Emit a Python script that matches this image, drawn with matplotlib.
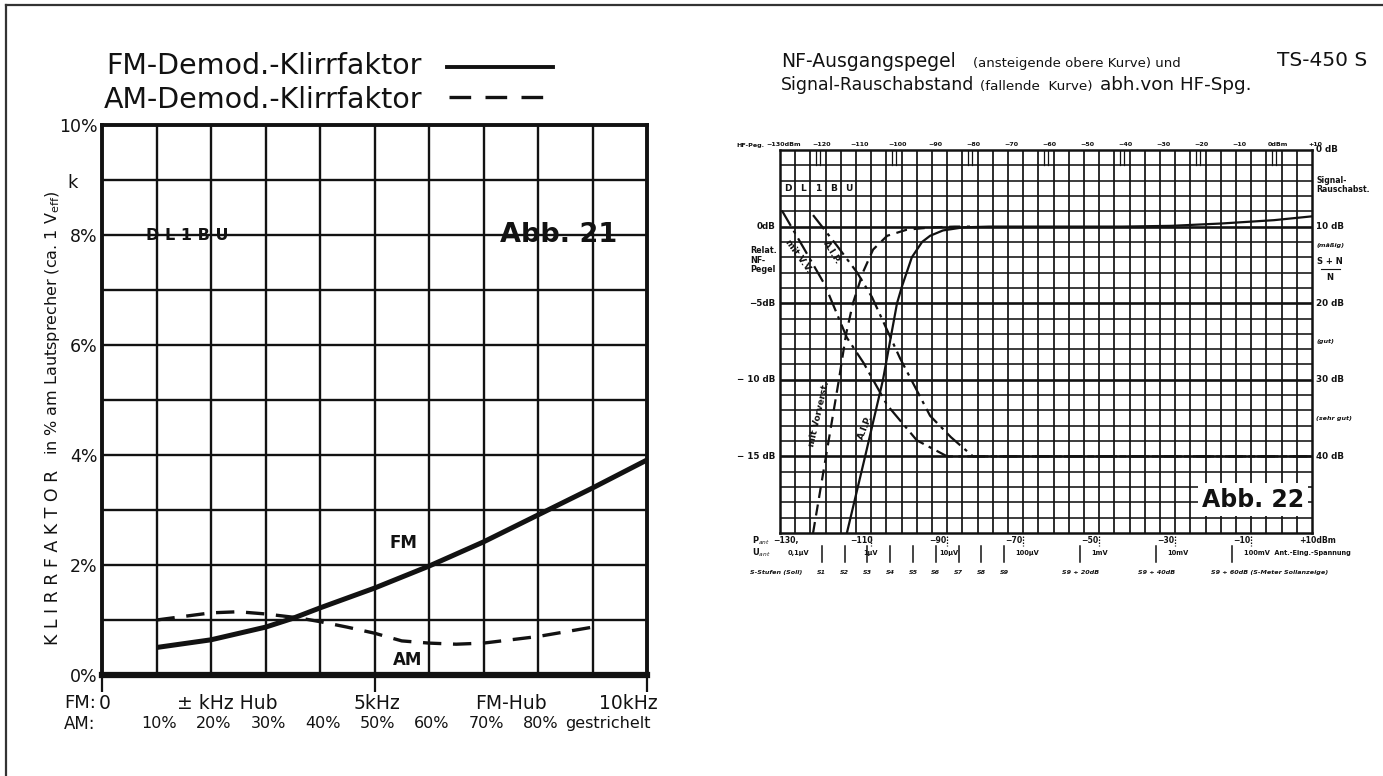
import numpy as np
import matplotlib
matplotlib.use("Agg")
import matplotlib.pyplot as plt
from matplotlib.lines import Line2D

W, H = 1383, 776
plt.rcParams['font.family'] = ['DejaVu Sans']
fig = plt.figure(figsize=(W / 100, H / 100), dpi=100)
fig.patch.set_facecolor('white')
INK = '#121212'


def fx(px):
    return px / W


def fy(py):
    return 1 - py / H


# ---------------- Abb. 21: Klirrfaktor über Hub / Modulationsgrad ----------------
fm_khz = [1.0, 2.0, 3.0, 3.5, 4.0, 5.0, 6.0, 7.0, 8.0, 9.0, 10.0]
fm_klirr = [0.50, 0.64, 0.87, 1.03, 1.22, 1.58, 1.98, 2.42, 2.91, 3.40, 3.91]
am_khz = [1.0, 2.0, 2.5, 3.0, 3.6, 4.0, 4.5, 5.0, 5.5, 6.0, 6.5, 7.0, 8.0, 9.0]
am_klirr = [1.00, 1.13, 1.15, 1.11, 1.04, 0.97, 0.87, 0.76, 0.62, 0.58, 0.56, 0.58, 0.70, 0.87]
klirr_ticks = [0, 2, 4, 6, 8, 10]
klirr_labels = ['0%', '2%', '4%', '6%', '8%', '10%']
am_grad_pos = [1, 2, 3, 4, 5, 6, 7, 8]
am_grad_labels = ['10%', '20%', '30%', '40%', '50%', '60%', '70%', '80%']

# ---------------- Abb. 22: NF-Pegel und S/N über HF-Pegel ----------------
hf_pegel_dbm = [-130, -120, -110, -100, -90, -80, -70, -60, -50, -40, -30, -20, -10, 0, 10]
hf_pegel_labels = ['−130dBm', '−120', '−110', '−100', '−90', '−80', '−70', '−60',
                   '−50', '−40', '−30', '−20', '−10', '0dBm', '+10']
# NF output level (dB, left scale)
nf_aip_dbm = [-112.4, -107.6, -102.9, -99.2, -97.9, -95.3, -92.6, -90.5, -87.1, -81.8,
              -75, -60, -40, -27, -14, 0, 10]
nf_aip_db = [-20, -15, -10, -5, -3.9, -2.0, -1.0, -0.6, -0.25, -0.05,
             0, 0, 0, 0.05, 0.2, 0.42, 0.67]
nf_vv_dbm = [-121.3, -117.9, -114.5, -112.6, -110.8, -108.2, -105.5, -101.8, -96.6, -90, -84, -80]
nf_vv_db = [-20, -15, -10, -7, -5, -3, -1.5, -0.6, -0.2, -0.05, 0, 0]
# signal-to-noise (S+N)/N in dB, right scale
sn_vv_dbm = [-129.5, -124, -118.2, -112.4, -108, -101.8, -94, -86, -70, -40, 10]
sn_vv_db = [7.9, 12.6, 17.6, 24.5, 27.8, 33.3, 37.9, 40, 40, 40, 40]
sn_aip_dbm = [-121.3, -115, -109.7, -105.8, -98.4, -90.5, -85, -79.2, -60, 10]
sn_aip_db = [8.5, 12.5, 16, 19.2, 27.2, 34.7, 37.5, 40, 40, 40]
nf_left_ticks = [0, -5, -10, -15]
nf_left_labels = ['0dB', '−5dB', '− 10 dB', '− 15 dB']
sn_right_ticks = [0, 10, 20, 30, 40]
sn_right_labels = ['0 dB', '10 dB', '20 dB', '30 dB', '40 dB']
sn_grades = [12.5, 25, 35]
sn_grade_labels = ['(mäßig)', '(gut)', '(sehr gut)']
p_ant_dbm = [-130, -110, -90, -70, -50, -30, -10, 10]
p_ant_labels = ['−130,', '−110', '−90', '−70', '−50', '−30', '−10', '+10dBm']
u_ant_dbm = [-127, -107, -87, -67, -47, -27, -7]
u_ant_labels = ['0,1µV', '1µV', '10µV', '100µV', '1mV', '10mV', '100mV  Ant.-Eing.-Spannung']
s_unit_dbm = [-119, -113, -107, -101, -95, -89, -83, -77, -71, -51, -31, -11]
s_unit_labels = ['S1', 'S2', 'S3', 'S4', 'S5', 'S6', 'S7', 'S8', 'S9',
                 'S9 + 20dB', 'S9 + 40dB', 'S9 + 60dB (S-Meter Sollanzeige)']
callsign = ['D', 'L', '1', 'B', 'U']

# ---------------- page frame ----------------
fig.add_artist(Line2D([fx(6), fx(W)], [fy(5), fy(5)], color='#333', lw=1.6))
fig.add_artist(Line2D([fx(6), fx(6)], [fy(5), fy(H)], color='#333', lw=1.6))

# ================= left chart =================
axL = fig.add_axes([fx(102), fy(675), fx(647) - fx(102), fy(125) - fy(675)])
axL.set_xlim(0, 10)
axL.set_ylim(0, 10)
for v in range(1, 10):
    axL.axvline(v, color=INK, lw=1.7, zorder=1)
    axL.axhline(v, color=INK, lw=1.7, zorder=1)
for side in ['left', 'right', 'top']:
    axL.spines[side].set_linewidth(2.8)
    axL.spines[side].set_color(INK)
axL.spines['bottom'].set_linewidth(4.5)
axL.spines['bottom'].set_color(INK)
axL.set_xticks([0, 5, 10])
axL.set_xticklabels([])
axL.tick_params(axis='x', direction='out', length=12, width=1.6, color=INK)
axL.set_yticks(klirr_ticks)
axL.set_yticklabels(klirr_labels, fontsize=12.5, color=INK)
axL.tick_params(axis='y', length=0, pad=3)

axL.plot(fm_khz, fm_klirr, color=INK, lw=3.6, solid_capstyle='butt', zorder=3)
axL.plot(am_khz, am_klirr, color=INK, lw=2.4, dashes=(5.5, 3.5), zorder=3)

axL.text(5.54, 2.4, 'FM', fontsize=12, fontweight='bold', ha='center', va='center', color=INK)
axL.text(5.6, 0.27, 'AM', fontsize=12, fontweight='bold', ha='center', va='center', color=INK)
axL.text(0.8, 8.0, 'D L 1 B U', fontsize=11.5, fontweight='bold', ha='left', va='center', color=INK)
axL.text(9.45, 8.0, 'Abb. 21', fontsize=19.5, fontweight='bold', ha='right', va='center', color=INK)

xt = axL.get_xaxis_transform()
axL.text(0.05, -0.052, '0', transform=xt, fontsize=13.5, ha='center', va='center', color=INK)
axL.text(2.3, -0.052, '± kHz Hub', transform=xt, fontsize=13.5, ha='center', va='center', color=INK)
axL.text(5.05, -0.052, '5kHz', transform=xt, fontsize=13.5, ha='center', va='center', color=INK)
axL.text(7.5, -0.052, 'FM-Hub', transform=xt, fontsize=13.5, ha='center', va='center', color=INK)
axL.text(10.2, -0.052, '10kHz', transform=xt, fontsize=13.5, ha='right', va='center', color=INK)
for p, lab in zip(am_grad_pos, am_grad_labels):
    axL.text(p + 0.05, -0.089, lab, transform=xt, fontsize=11.5, ha='center', va='center', color=INK)
axL.text(8.5, -0.089, 'gestrichelt', transform=xt, fontsize=11.5, ha='left', va='center', color=INK)
fig.text(fx(64), fy(703), 'FM:', fontsize=13, ha='left', va='center', color=INK)
fig.text(fx(64), fy(724), 'AM:', fontsize=12, ha='left', va='center', color=INK)

fig.text(fx(53), fy(557), 'K L I R R F A K T O R', rotation=90, fontsize=12.5,
         ha='center', va='center', color=INK)
fig.text(fx(53), fy(323), 'in % am Lautsprecher (ca. 1 V$_{\\mathrm{eff}}$)', rotation=90,
         fontsize=11.5, ha='center', va='center', color=INK)
fig.text(fx(73), fy(183), 'k', fontsize=13, ha='center', va='center', color=INK)

fig.text(fx(106), fy(74), 'FM-Demod.-Klirrfaktor', fontsize=20.5, ha='left', va='baseline', color=INK)
fig.text(fx(104), fy(108), 'AM-Demod.-Klirrfaktor', fontsize=20.5, ha='left', va='baseline', color=INK)
fig.add_artist(Line2D([fx(447), fx(553)], [fy(67), fy(67)], color=INK, lw=2.8))
fig.add_artist(Line2D([fx(449), fx(555)], [fy(97), fy(97)], color=INK, lw=2.4, dashes=(6.5, 4.3)))

# ================= right chart =================
axR = fig.add_axes([fx(780), fy(533), fx(1312) - fx(780), fy(150) - fy(533)])
axR.set_xlim(-130, 10)
axR.set_ylim(-20, 5)
for v in np.arange(-126, 10, 4):
    axR.axvline(v, color=INK, lw=1.25, zorder=1)
for v in range(-19, 5):
    axR.axhline(v, color=INK, lw=1.9 if v % 5 == 0 else 1.15, zorder=1)
for s in axR.spines.values():
    s.set_linewidth(1.8)
    s.set_color(INK)
axR.set_xticks([])
axR.set_yticks([])

# double marks in the head row every 20 dB
for v in hf_pegel_dbm[1:-1:2]:
    for d in (-0.5, 0.5):
        axR.plot([v + d, v + d], [4, 5], color=INK, lw=0.9, zorder=2)

axR.plot(nf_aip_dbm, nf_aip_db, color=INK, lw=1.6, zorder=3)
axR.plot(nf_vv_dbm, nf_vv_db, color=INK, lw=1.6, dashes=(5, 3), zorder=3)

axS = axR.twinx()
axS.set_ylim(50, 0)
axS.set_yticks([])
for s in axS.spines.values():
    s.set_visible(False)
axS.plot(sn_vv_dbm, sn_vv_db, color=INK, lw=1.6, dashes=(8, 2.5, 1.5, 2.5), zorder=3)
axS.plot(sn_aip_dbm, sn_aip_db, color=INK, lw=1.6, dashes=(8, 2.5, 1.5, 2.5), zorder=3)

# curve captions
axR.text(-125.3, -1.9, 'mit V.V.', rotation=-54, fontsize=6.5, fontweight='bold',
         ha='center', va='center', color=INK)
axR.text(-116.3, -1.7, 'A.I.P.', rotation=-58, fontsize=6.5, fontweight='bold',
         ha='center', va='center', color=INK)
axR.text(-119.6, -12.2, 'mit Vorverst.', rotation=77, fontsize=6.5, fontweight='bold',
         ha='center', va='center', color=INK)
axR.text(-107.6, -13.1, 'A.I.P.', rotation=68, fontsize=6.5, fontweight='bold',
         ha='center', va='center', color=INK)

for i, ch in enumerate(callsign):
    axR.text(-128 + 4 * i, 2.5, ch, fontsize=6.5, fontweight='bold', ha='center', va='center',
             color=INK, bbox=dict(fc='white', ec='none', pad=0.5))

axR.text(-5.5, 0.087, 'Abb. 22', transform=axR.get_xaxis_transform(), fontsize=17,
         fontweight='bold', ha='center', va='center', color=INK, zorder=5,
         bbox=dict(fc='white', ec='none', pad=3))

# top scale
xtR = axR.get_xaxis_transform()
for v, lab in zip(hf_pegel_dbm, hf_pegel_labels):
    axR.text(v + 1.0, 1.014, lab, transform=xtR, fontsize=4.6, fontweight='bold',
             ha='center', va='center', color=INK)
fig.text(fx(764), fy(145), 'HF-Peg.', fontsize=4.6, fontweight='bold', ha='right', va='center', color=INK)

# left scale: relative NF level
ytR = axR.get_yaxis_transform()
for v, lab in zip(nf_left_ticks, nf_left_labels):
    axR.text(-0.008, v, lab, transform=ytR, fontsize=6.3, fontweight='bold',
             ha='right', va='center', color=INK)
axR.text(-0.055, -2.2, 'Relat.\nNF-\nPegel', transform=ytR, fontsize=5.8, fontweight='bold',
         ha='left', va='center', color=INK, linespacing=1.05)

# right scale: signal-to-noise
ytS = axS.get_yaxis_transform()
for v, lab in zip(sn_right_ticks, sn_right_labels):
    axS.text(1.008, v, lab, transform=ytS, fontsize=6.3, fontweight='bold',
             ha='left', va='center', color=INK)
for v, lab in zip(sn_grades, sn_grade_labels):
    axS.text(1.008, v, lab, transform=ytS, fontsize=4.6, style='italic', fontweight='bold',
             ha='left', va='center', color=INK)
axS.text(1.008, 4.6, 'Signal-\nRauschabst.', transform=ytS, fontsize=5.6, fontweight='bold',
         ha='left', va='center', color=INK, linespacing=1.0)
axS.text(1.034, 14.6, 'S + N', transform=ytS, fontsize=6.0, fontweight='bold',
         ha='center', va='center', color=INK)
axS.text(1.034, 16.6, 'N', transform=ytS, fontsize=6.0, fontweight='bold',
         ha='center', va='center', color=INK)
axS.plot([1.016, 1.052], [15.6, 15.6], transform=ytS, color=INK, lw=0.8, clip_on=False)

# bottom scales
for v, lab in zip(p_ant_dbm, p_ant_labels):
    axR.text(v + 1.5, -0.019, lab, transform=xtR, fontsize=5.6, fontweight='bold',
             ha='center', va='center', color=INK)
for v in u_ant_dbm[1:]:
    axR.plot([v + 1, v + 1], [-0.008, -0.034], transform=xtR, color=INK, lw=0.9,
             ls=(0, (1.2, 1.2)), clip_on=False)
axR.text(-137.5, -0.019, 'P$_{ant}$', transform=xtR, fontsize=6, fontweight='bold', ha='left', va='center', color=INK)
axR.text(-137.5, -0.052, 'U$_{ant}$', transform=xtR, fontsize=6, fontweight='bold', ha='left', va='center', color=INK)
for v, lab in zip(u_ant_dbm, u_ant_labels):
    axR.text(v - 1, -0.052, lab, transform=xtR, fontsize=4.8, fontweight='bold',
             ha='left', va='center', color=INK)
for v in s_unit_dbm:
    axR.plot([v, v], [-0.034, -0.077], transform=xtR, color=INK, lw=1.1, clip_on=False)
axR.text(-138, -0.102, 'S-Stufen (Soll)', transform=xtR, fontsize=4.6, style='italic',
         fontweight='bold', ha='left', va='center', color=INK)
for v, lab in zip(s_unit_dbm[:-1], s_unit_labels[:-1]):
    axR.text(v, -0.102, lab, transform=xtR, fontsize=4.6, style='italic', fontweight='bold',
             ha='center', va='center', color=INK)
axR.text(s_unit_dbm[-1] - 5.5, -0.102, s_unit_labels[-1], transform=xtR, fontsize=4.6,
         style='italic', fontweight='bold', ha='left', va='center', color=INK)

# titles
fig.text(fx(781), fy(67), 'NF-Ausgangspegel', fontsize=13.5, ha='left', va='baseline', color=INK)
fig.text(fx(973), fy(67), '(ansteigende obere Kurve) und', fontsize=9.5, ha='left', va='baseline', color=INK)
fig.text(fx(781), fy(90), 'Signal-Rauschabstand', fontsize=12.5, ha='left', va='baseline', color=INK)
fig.text(fx(980), fy(90), '(fallende  Kurve)', fontsize=9.7, ha='left', va='baseline', color=INK)
fig.text(fx(1100), fy(90), 'abh.von HF-Spg.', fontsize=13.2, ha='left', va='baseline', color=INK)
fig.text(fx(1277), fy(66), 'TS-450 S', fontsize=14.5, fontweight='medium', ha='left', va='baseline', color=INK)

fig.savefig('out.png', dpi=100, facecolor='white')
